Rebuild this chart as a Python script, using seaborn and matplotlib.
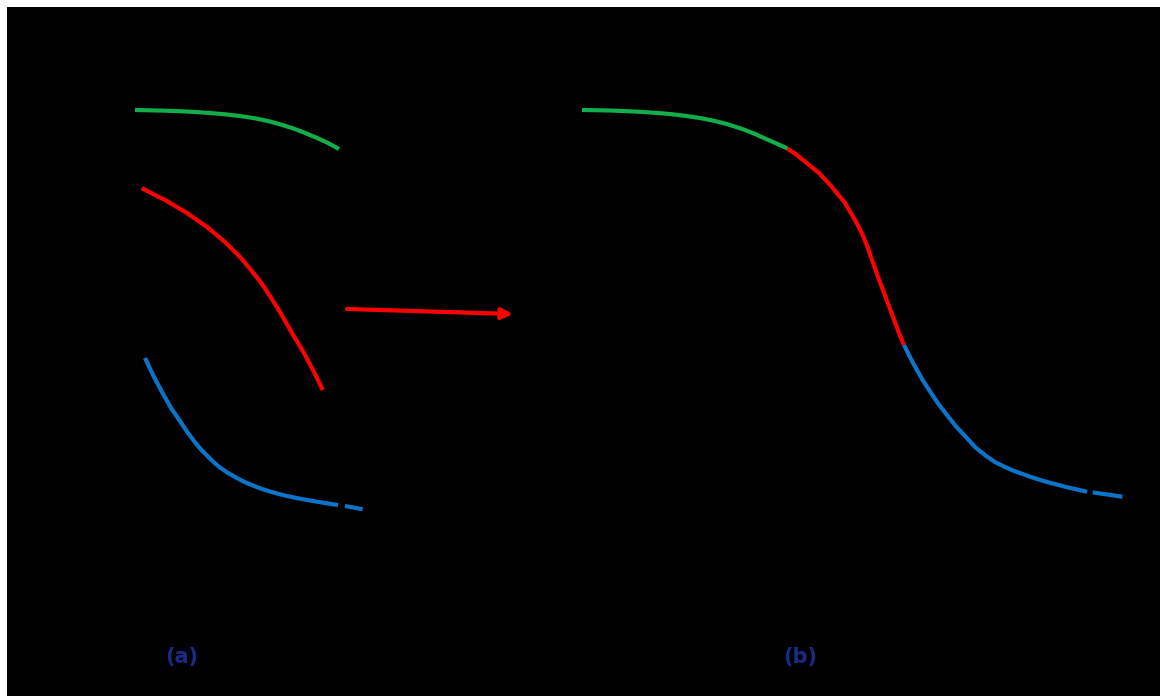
import numpy as np
import pandas as pd
import matplotlib
matplotlib.use("Agg")
import matplotlib.pyplot as plt
import seaborn as sns

# ---- curve data (panel a: three separate regimes; panel b: joined curve) ----
a_green_x = [135, 150, 165, 180, 195, 210, 225, 240, 255, 268, 280, 292, 304, 316, 328, 339]
a_green_y = [110, 110.3, 110.7, 111.2, 112, 113, 114.3, 116, 118.3, 121, 124.3, 128, 132.5, 137.5, 143, 149]

a_red_x = [141.7, 153, 165, 176, 187, 197, 207, 216, 225, 233, 241, 248, 255, 262, 268, 274,
           280, 286, 292, 298, 304, 309, 314, 318.5, 322.7]
a_red_y = [188, 194, 200, 206.5, 213, 220, 227, 234.5, 242, 250, 258, 266.5, 275, 284, 293, 302.5,
           312, 322.5, 333, 343, 353, 362.5, 372, 381, 390]

a_blue1_x = [145, 149, 153, 157.5, 162, 166.5, 171, 176.5, 182, 188, 194, 200.5, 207, 213.5, 220,
             228, 236, 244.5, 253, 261.5, 270, 278.5, 287, 296, 305, 313.5, 322, 330, 338]
a_blue1_y = [358, 366.5, 375, 383.5, 392, 400, 408, 416, 424, 433, 441, 449, 455.5, 462, 467.5,
             473, 477.5, 482, 485.5, 488.8, 491.5, 493.9, 496, 497.9, 499.6, 501.1, 502.5, 503.8, 505]
a_blue2_x = [345, 354, 362.7]
a_blue2_y = [506, 507.6, 509.3]

b_green_x = [582, 596, 610, 625, 640, 655, 670, 685, 700, 713, 725, 735, 745, 755, 765, 776, 787.5]
b_green_y = [110, 110.2, 110.5, 111.1, 111.8, 112.8, 114, 115.8, 118, 120.6, 123.5, 126.6, 130,
             134, 138.5, 143.3, 148.5]

b_red_x = [787.5, 795.5, 803, 811, 819, 825.5, 832, 838.5, 845, 850, 855, 859.5, 863.5, 867.5,
           871, 874.5, 878, 882, 886, 889.5, 893, 896, 899, 901.5, 904]
b_red_y = [148.5, 154, 160, 166.5, 173, 180, 187, 195, 203, 211.5, 220, 228.5, 237, 247, 257,
           267, 277, 287.5, 298, 307.5, 317, 325, 333, 339, 345]

b_blue1_x = [904, 908.5, 913, 917.8, 922.6, 928.8, 935, 941.5, 948.5, 956.5, 965, 975, 985.5,
             994.5, 1004, 1013, 1022.5, 1031.5, 1041, 1050, 1059.4, 1067, 1075, 1081, 1087]
b_blue1_y = [345, 354, 363, 371.5, 380, 389.5, 399, 408, 417, 427, 436, 447, 455.5, 461.8, 466.5,
             470.5, 474, 477.2, 480.2, 482.8, 485.2, 487.2, 489, 490.4, 491.7]
b_blue2_x = [1092.7, 1100, 1108, 1115, 1122.3]
b_blue2_y = [492.4, 493.5, 494.6, 495.6, 496.7]

arrow_start = (347, 309)
arrow_end = (513, 314)

panel_labels = ["(a)", "(b)"]
panel_label_pos = [(182, 657), (800, 657)]

GREEN = "#12AE4C"
RED = "#FF0000"
BLUE = "#0C74C8"
LABEL = "#1C2A86"

segments = [
    (a_green_x, a_green_y, GREEN),
    (a_red_x, a_red_y, RED),
    (a_blue1_x, a_blue1_y, BLUE),
    (a_blue2_x, a_blue2_y, BLUE),
    (b_green_x, b_green_y, GREEN),
    (b_red_x, b_red_y, RED),
    (b_blue1_x, b_blue1_y, BLUE),
    (b_blue2_x, b_blue2_y, BLUE),
]

sns.set_theme(style="white")
fig = plt.figure(figsize=(11.6, 6.96), dpi=100, facecolor="white")
ax = fig.add_axes([7 / 1160, 0, 1153 / 1160, 689 / 696])
ax.set_facecolor("black")

for xs, ys, col in segments:
    df = pd.DataFrame({"x": xs, "y": ys})
    sns.lineplot(data=df, x="x", y="y", sort=False, estimator=None,
                 color=col, linewidth=3.0, ax=ax,
                 solid_capstyle="butt", solid_joinstyle="round")

ax.annotate("", xy=arrow_end, xytext=arrow_start,
            arrowprops=dict(arrowstyle="-|>", color=RED, lw=3,
                            mutation_scale=16, shrinkA=0, shrinkB=0))

for txt, (x, y) in zip(panel_labels, panel_label_pos):
    ax.text(x, y, txt, color=LABEL, fontsize=15, fontweight="bold",
            ha="center", va="center", family="DejaVu Sans")

ax.set_xlim(7, 1160)
ax.set_ylim(696, 7)
ax.set_xlabel("")
ax.set_ylabel("")
ax.set_xticks([])
ax.set_yticks([])
for s in ax.spines.values():
    s.set_visible(False)

fig.savefig("out.png", dpi=100, facecolor="white")
